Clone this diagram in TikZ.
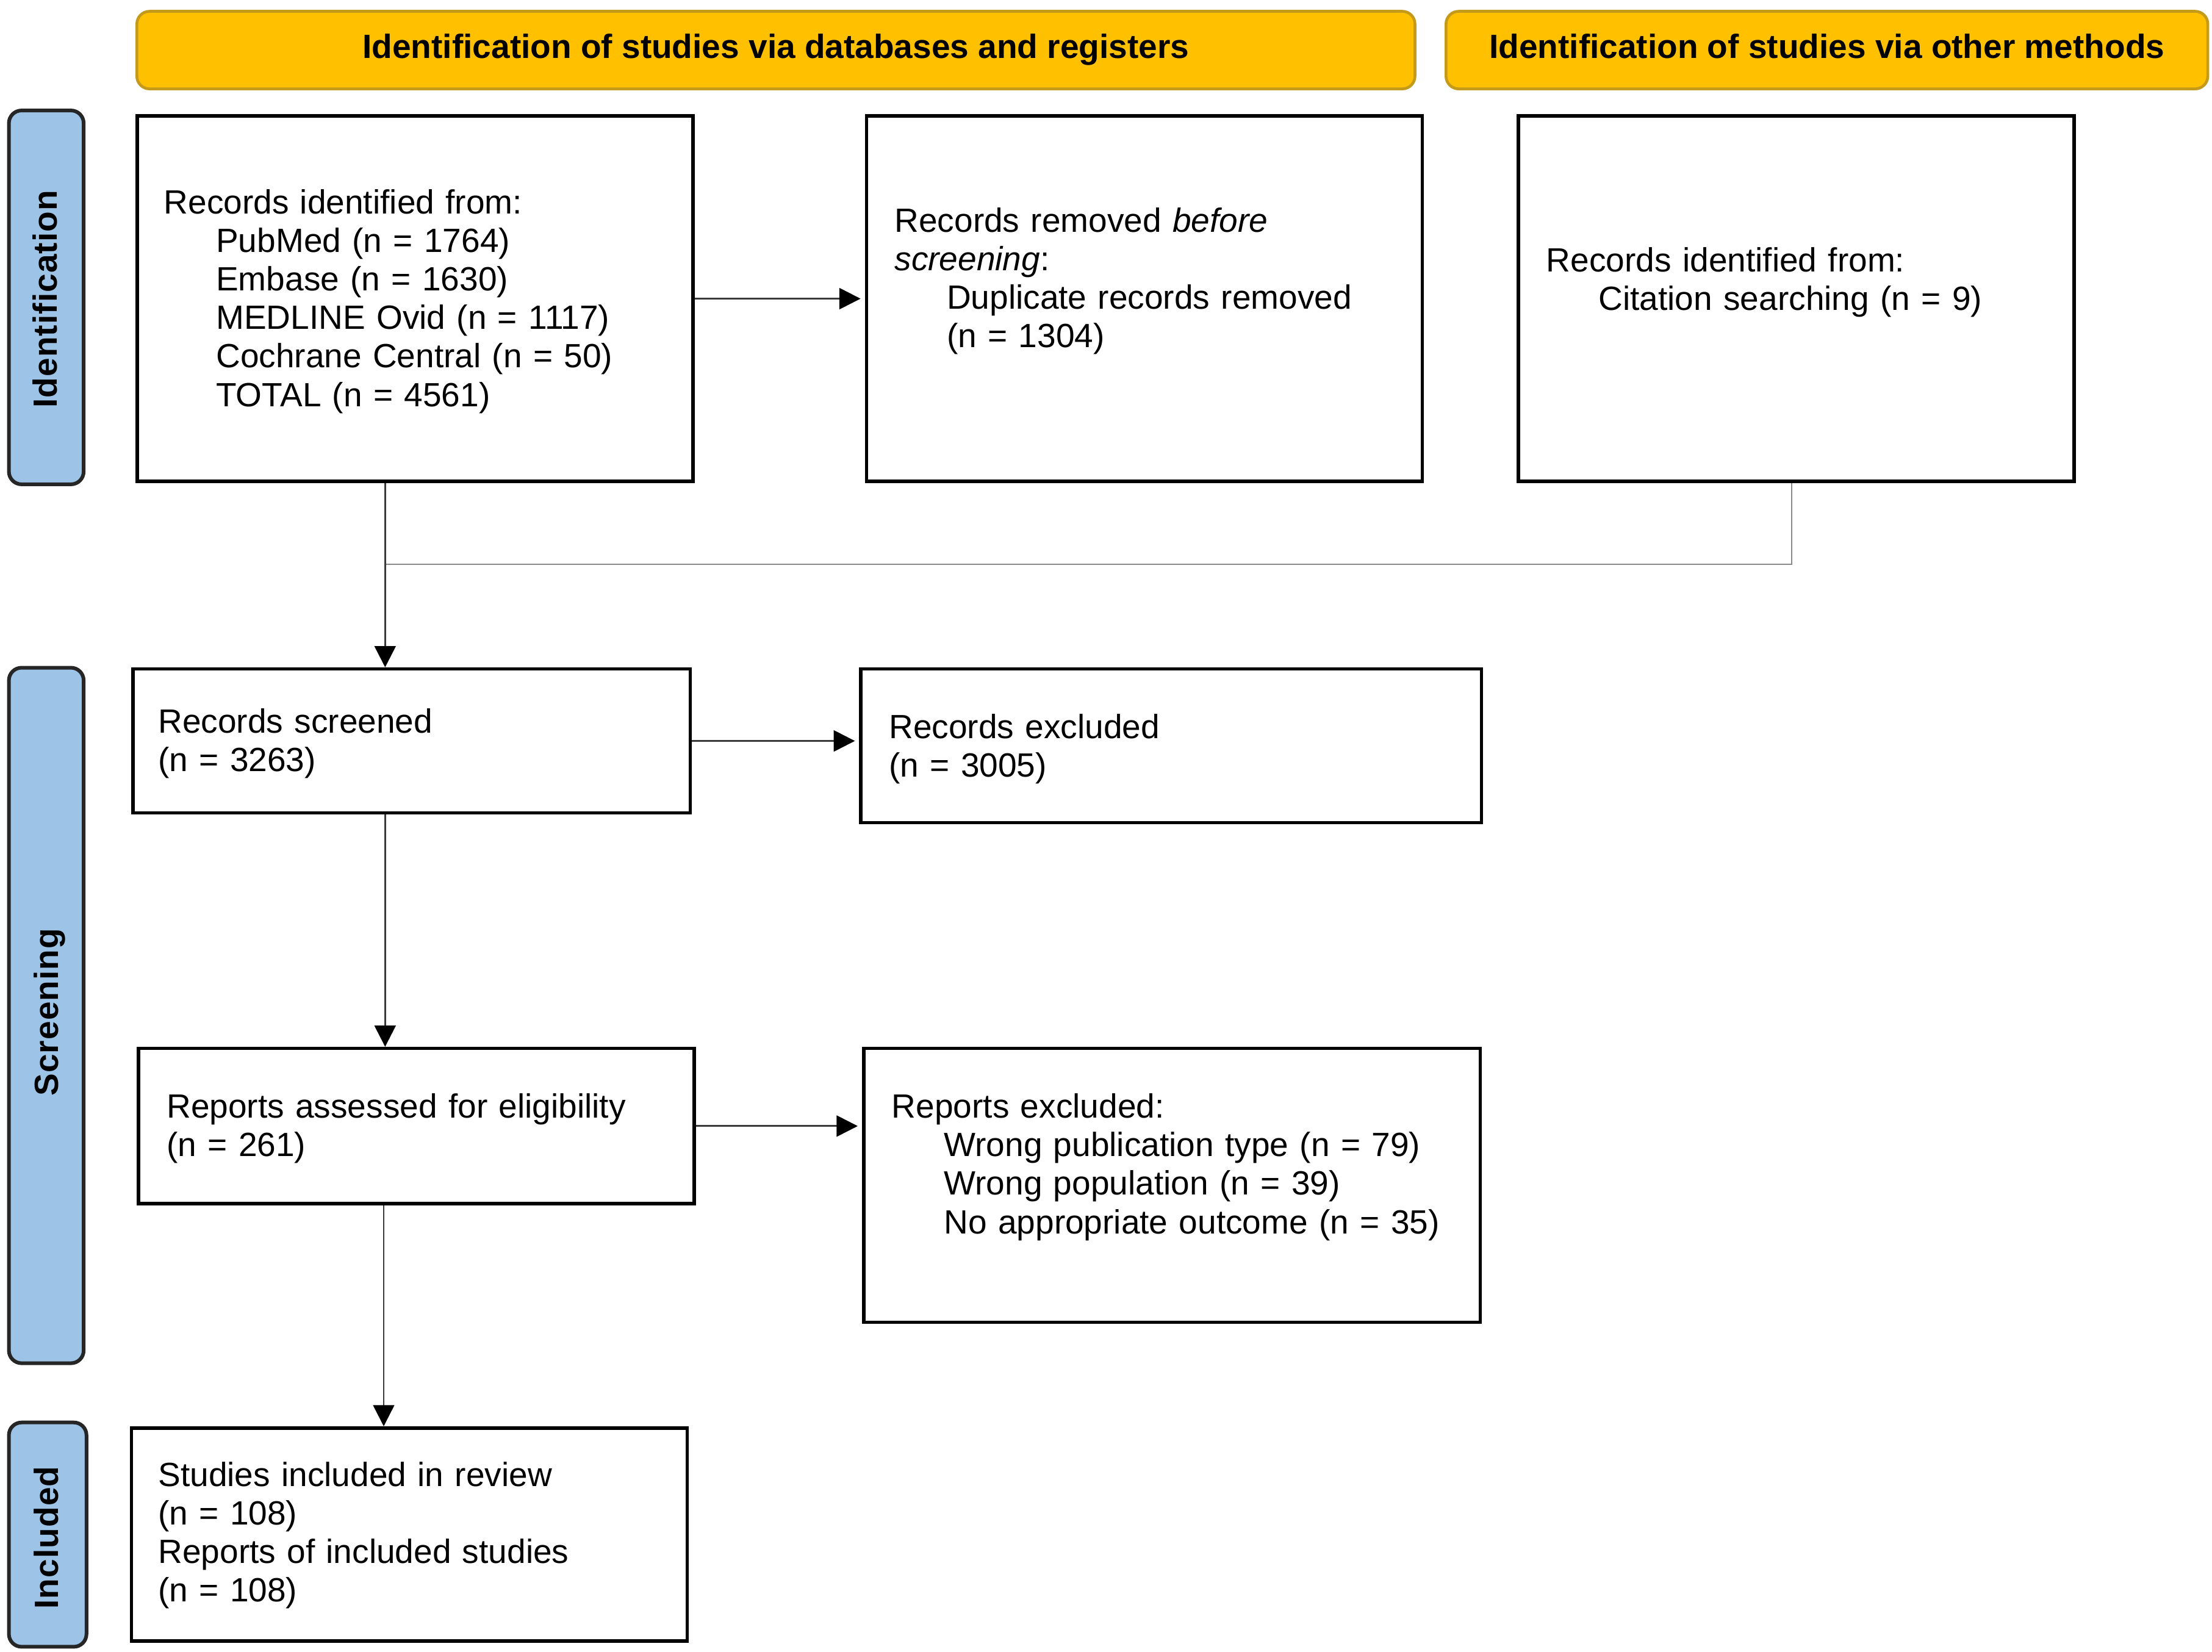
\documentclass[tikz,border=0pt]{standalone}
\usepackage{fontspec}
\setmainfont{Liberation Sans}
\usetikzlibrary{arrows.meta}
\definecolor{gold}{HTML}{FFC000}
\definecolor{golddark}{HTML}{C49A1B}
\definecolor{tabblue}{HTML}{9DC3E6}
\definecolor{arrgray}{HTML}{3A3A3A}
\definecolor{linegray}{HTML}{8A8A8A}
\begin{document}
\begin{tikzpicture}[x=1pt,y=-1pt,
  box/.style={draw=black, line width=2.4pt, rectangle, inner sep=0pt, anchor=north west, fill=white},
  hdr/.style={draw=golddark, fill=gold, line width=2pt, rounded corners=9pt, inner sep=0pt,
    font=\fontsize{23.8}{27.3}\selectfont\bfseries, text height=17pt, text depth=5pt},
  tab/.style={draw=black!85, fill=tabblue, line width=2.6pt, rounded corners=9pt, anchor=north west, inner sep=0pt},
  tablabel/.style={rotate=90, inner sep=0pt, font=\fontsize{23.8}{27.3}\selectfont\bfseries\addfontfeatures{LetterSpace=2}, text height=17pt, text depth=0pt},
  txt/.style={anchor=base west, inner sep=0pt, align=left, text width=500pt, font=\fontsize{23.8}{27.3}\selectfont},
  arr/.style={draw=arrgray, line width=1.2pt, -{Triangle[length=15pt,width=15pt,black]}},
  gline/.style={draw=linegray, line width=1.2pt}]
\useasboundingbox (0,0) rectangle (1568,1171);
% headers
\node[hdr, minimum width=906pt, minimum height=55pt] (H1) at (550,35.5) {Identification of studies via databases and registers};
\node[hdr, minimum width=540pt, minimum height=55pt] (H2) at (1295,35.5) {Identification of studies via other methods};
% side tabs
\node[tab, minimum width=53pt, minimum height=265pt] (T1) at (5,77) {};
\node[tablabel] (L1) at (32,212) {Identification};
\node[tab, minimum width=53pt, minimum height=493pt] (T2) at (5,472) {};
\node[tablabel] (L2) at (33,717.5) {Screening};
\node[tab, minimum width=55pt, minimum height=159pt] (T3) at (5,1007) {};
\node[tablabel] (L3) at (33,1090) {Included};
% boxes
\node[box, minimum width=394pt, minimum height=259pt] (B1) at (96,81) {};
\node[box, minimum width=394pt, minimum height=259pt] (B2) at (613,81) {};
\node[box, minimum width=394pt, minimum height=259pt] (B3) at (1075,81) {};
\node[box, minimum width=395pt, minimum height=102pt] (B4) at (93,473) {};
\node[box, minimum width=440pt, minimum height=109pt] (B5) at (609,473) {};
\node[box, minimum width=394pt, minimum height=110pt] (B6) at (97,742) {};
\node[box, minimum width=437pt, minimum height=194pt] (B7) at (611,742) {};
\node[box, minimum width=394pt, minimum height=151pt] (B8) at (92,1011) {};
% texts
\node[txt] (X1) at (116,151.5) {Records identified from:\\
\hspace*{37pt}PubMed (n = 1764)\\
\hspace*{37pt}Embase (n = 1630)\\
\hspace*{37pt}MEDLINE Ovid (n = 1117)\\
\hspace*{37pt}Cochrane Central (n = 50)\\
\hspace*{37pt}TOTAL (n = 4561)};
\node[txt] (X2) at (634,164.5) {Records removed \textit{before}\\
\textit{screening}:\\
\hspace*{37pt}Duplicate records removed\\
\hspace*{37pt}(n = 1304)};
\node[txt] (X3) at (1096,192.5) {Records identified from:\\
\hspace*{37pt}Citation searching (n = 9)};
\node[txt] (X4) at (112,519.5) {Records screened\\ (n = 3263)};
\node[txt] (X5) at (630,523.5) {Records excluded\\ (n = 3005)};
\node[txt] (X6) at (118,792.5) {Reports assessed for eligibility\\ (n = 261)};
\node[txt] (X7) at (632,792.5) {Reports excluded:\\
\hspace*{37pt}Wrong publication type (n = 79)\\
\hspace*{37pt}Wrong population (n = 39)\\
\hspace*{37pt}No appropriate outcome (n = 35)};
\node[txt] (X8) at (112,1053.5) {Studies included in review\\ (n = 108)\\ Reports of included studies\\ (n = 108)};
% connectors
\coordinate (J) at (273,400);
\coordinate (G) at (1270,400);
\coordinate (K) at (272,900);
\draw[gline] (B3.south -| G) -- (G) -- (J);
\draw[arr] (B1.south -| J) -- (B4.north -| J);
\draw[arr, shorten >=3pt] (B1.east) -- (B2.west);
\draw[arr, shorten >=3pt] (B4.east) -- (B5.west |- B4.east);
\draw[arr] (B4.south -| J) -- (B6.north -| J);
\draw[arr, shorten >=3pt] (B6.east) -- (B7.west |- B6.east);
\draw[arr] (B6.south -| K) -- (B8.north -| K);
\end{tikzpicture}
\end{document}
